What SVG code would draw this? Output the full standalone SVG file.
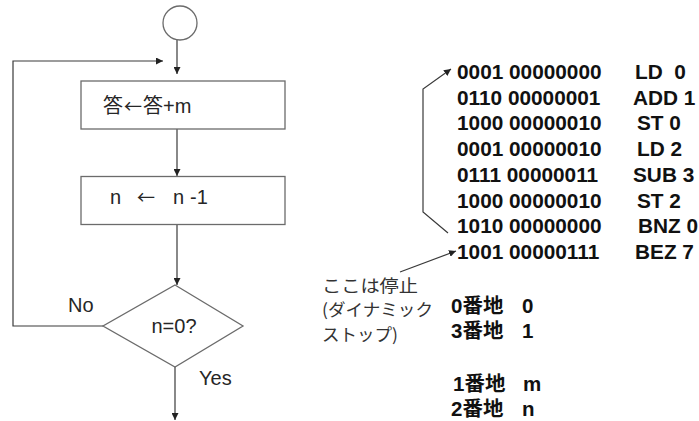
<svg xmlns="http://www.w3.org/2000/svg" width="699" height="421" viewBox="0 0 699 421">
<defs>
<style>
.shape{fill:#fff;stroke:#6b6b6b;stroke-width:1.3}
.line{fill:none;stroke:#3a3a3a;stroke-width:1.2}
.t{font-family:"Liberation Sans","Noto Sans CJK JP",sans-serif;font-size:20px;fill:#262626}
.arr{font-family:"Noto Sans CJK JP",sans-serif;font-size:18px}
.jp{font-family:"Noto Sans CJK JP","Liberation Sans",sans-serif;font-size:17px;fill:#333}
.code{font-family:"Liberation Sans","Noto Sans CJK JP",sans-serif;font-size:20.8px;font-weight:bold;fill:#111}
.addr{font-family:"Liberation Sans","Noto Sans CJK JP",sans-serif;font-size:20.5px;font-weight:bold;fill:#111}
</style>
<marker id="ah" viewBox="0 0 10 10" refX="10" refY="5" markerWidth="7" markerHeight="7" markerUnits="userSpaceOnUse" orient="auto">
<path d="M0,0 L10,5 L0,10 z" fill="#222"/>
</marker>
</defs>

<g id="connectors">
<line class="line" x1="177" y1="40" x2="177" y2="74" marker-end="url(#ah)"/>
<polyline class="line" points="103,326 13,326 13,61 163,61" marker-end="url(#ah)"/>
<line class="line" x1="177" y1="129" x2="177" y2="176" marker-end="url(#ah)"/>
<line class="line" x1="177" y1="224" x2="177" y2="285" marker-end="url(#ah)"/>
<line class="line" x1="175" y1="367" x2="175" y2="420" marker-end="url(#ah)"/>
<polyline class="line" points="448,233 423,212 423,89 451,69" marker-end="url(#ah)"/>
<line class="line" x1="400" y1="272" x2="456" y2="251" marker-end="url(#ah)"/>
</g>

<g id="start">
<circle class="shape" cx="180" cy="23" r="17"/>
</g>

<g id="box1">
<rect class="shape" x="81" y="81" width="204" height="48"/>
<text class="t" y="113"><tspan x="103">答</tspan><tspan class="arr" x="124">←</tspan><tspan x="143">答+m</tspan></text>
</g>

<g id="box2">
<rect class="shape" x="81" y="176.5" width="204" height="48"/>
<text class="t" y="204"><tspan x="110">n</tspan><tspan class="arr" x="137">←</tspan><tspan x="173">n</tspan><tspan x="190">-1</tspan></text>
</g>

<g id="decision">
<polygon class="shape" points="175,285 243,326 175,367 103,326"/>
<text class="t" x="174" y="333" text-anchor="middle">n=0?</text>
</g>

<g id="labels">
<text class="t" x="68" y="312">No</text>
<text class="t" x="199" y="385">Yes</text>
</g>

<g id="program">
<text class="code" x="457" y="79">0001 00000000</text>
<text class="code" x="457" y="104.7">0110 00000001</text>
<text class="code" x="457" y="130.4">1000 00000010</text>
<text class="code" x="457" y="156.1">0001 00000010</text>
<text class="code" x="457" y="181.8">0111 00000011</text>
<text class="code" x="457" y="207.5">1000 00000010</text>
<text class="code" x="457" y="233.2">1010 00000000</text>
<text class="code" x="457" y="258.9">1001 00000111</text>
<text class="code" x="635" y="79" xml:space="preserve">LD  0</text>
<text class="code" x="633" y="104.7">ADD 1</text>
<text class="code" x="637" y="130.4">ST 0</text>
<text class="code" x="637" y="156.1">LD 2</text>
<text class="code" x="633" y="181.8">SUB 3</text>
<text class="code" x="637" y="207.5">ST 2</text>
<text class="code" x="638" y="233.2">BNZ 0</text>
<text class="code" x="635" y="258.9">BEZ 7</text>
</g>

<g id="note">
<text class="jp" x="322" y="292" textLength="96" lengthAdjust="spacingAndGlyphs">ここは停止</text>
<text class="jp" x="322" y="316" textLength="111" lengthAdjust="spacingAndGlyphs">(ダイナミック</text>
<text class="jp" x="322" y="341" textLength="76" lengthAdjust="spacingAndGlyphs">ストップ)</text>
</g>

<g id="memory">
<text class="addr" y="313"><tspan x="451">0番地</tspan><tspan x="522">0</tspan></text>
<text class="addr" y="338"><tspan x="451">3番地</tspan><tspan x="522">1</tspan></text>
<text class="addr" y="391"><tspan x="453">1番地</tspan><tspan x="523">m</tspan></text>
<text class="addr" y="416"><tspan x="451">2番地</tspan><tspan x="522">n</tspan></text>
</g>
</svg>
